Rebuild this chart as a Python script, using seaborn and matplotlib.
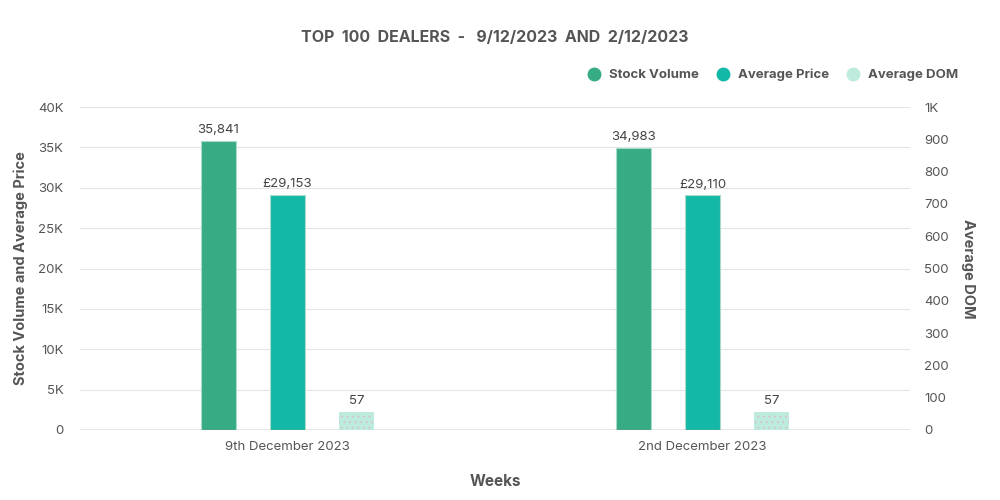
import numpy as np
import pandas as pd
import seaborn as sns
import matplotlib.pyplot as plt
from matplotlib.lines import Line2D
from matplotlib.ticker import FuncFormatter

# dados
semanas = ["9th December 2023", "2nd December 2023"]
stock_volume = [35841, 34983]
average_price = [29153, 29110]
average_dom = [57, 57]

series = ["Stock Volume", "Average Price", "Average DOM"]
cores = {"Stock Volume": "#36ab84", "Average Price": "#14b8a6", "Average DOM": "#bdebdd"}

sns.set_theme(style="white")
plt.rcParams["font.family"] = ["Inter", "DejaVu Sans"]
plt.rcParams["hatch.linewidth"] = 0.6
cinza = "#555555"

df = pd.DataFrame({
    "semana": semanas * 3,
    "serie": [s for s in series for _ in semanas],
    "valor": stock_volume + average_price + average_dom,
})

fig = plt.figure(figsize=(10, 5), dpi=100)
ax = fig.add_axes([0.08, 0.14, 0.83, 0.646])
ax2 = ax.twinx()

# eixo esquerdo: volume e preço / eixo direito: DOM (mesmo dodge para os dois)
sns.barplot(ax=ax, data=df, x="semana", y="valor", hue="serie", hue_order=series,
            order=semanas, palette=cores, saturation=1, width=0.5, gap=0.5, errorbar=None,
            edgecolor="#a8dcc8", linewidth=0.8, legend=False)
sns.barplot(ax=ax2, data=df, x="semana", y="valor", hue="serie", hue_order=series,
            order=semanas, palette=cores, saturation=1, width=0.5, gap=0.5, errorbar=None,
            edgecolor="#d9bfcd", linewidth=0, hatch="...", legend=False)

for i, s in enumerate(series):
    if s == "Average DOM":
        for p in ax.containers[i]:
            p.set_visible(False)
    else:
        for p in ax2.containers[i]:
            p.set_visible(False)

ax.set_xlim(-0.5, 1.5)
ax.set_ylim(0, 40000)
ax2.set_ylim(0, 1000)
ax.set_yticks(np.arange(0, 40001, 5000))
ax2.set_yticks(np.arange(0, 1001, 100))
ax.yaxis.set_major_formatter(FuncFormatter(lambda v, p: "0" if v == 0 else f"{int(v/1000)}K"))
ax2.yaxis.set_major_formatter(FuncFormatter(lambda v, p: "1K" if v == 1000 else f"{int(v)}"))

ax.grid(axis="y", color="#e5e5e5", linewidth=0.8)
ax.set_axisbelow(True)
for a in (ax, ax2):
    for s in a.spines.values():
        s.set_visible(False)
ax.axhline(0, color="#888888", linewidth=1, zorder=5)

ax.tick_params(axis="y", length=0, pad=12, labelsize=9.5, labelcolor=cinza)
ax2.tick_params(axis="y", length=0, pad=10, labelsize=9.5, labelcolor=cinza)
ax.tick_params(axis="x", length=0, pad=8, labelsize=9.5, labelcolor=cinza)

ax.set_xlabel("Weeks", fontsize=11, fontweight="bold", color=cinza, labelpad=15)
ax.set_ylabel("Stock Volume and Average Price", fontsize=10.5, fontweight="bold", color=cinza, labelpad=7)
ax2.set_ylabel("Average DOM", fontsize=10.5, fontweight="bold", color=cinza, rotation=270, labelpad=19)

# rótulos das barras
for i, s in enumerate(series):
    if s == "Average DOM":
        c = ax2.containers[i]
        ax2.bar_label(c, labels=[f"{v:,.0f}" for v in c.datavalues], padding=3, fontsize=9.5, color="#444444")
    else:
        c = ax.containers[i]
        pre = "£" if s == "Average Price" else ""
        ax.bar_label(c, labels=[f"{pre}{v:,.0f}" for v in c.datavalues], padding=3, fontsize=9.5, color="#444444")

# legenda
handles = [Line2D([], [], marker="o", linestyle="", markersize=9, markerfacecolor=cores[s],
                  markeredgecolor=cores[s]) for s in series]
fig.legend(handles, series, loc="center right", bbox_to_anchor=(0.97, 0.85), ncol=3, frameon=False,
           handlelength=1.0, handletextpad=0.65, columnspacing=1.3, prop={"weight": "bold", "size": 9.5},
           labelcolor=cinza)

fig.suptitle("TOP  100  DEALERS  -   9/12/2023  AND  2/12/2023", x=0.495, y=0.94, fontsize=11.5,
             fontweight="bold", color=cinza)

fig.savefig("out.png", dpi=100)
